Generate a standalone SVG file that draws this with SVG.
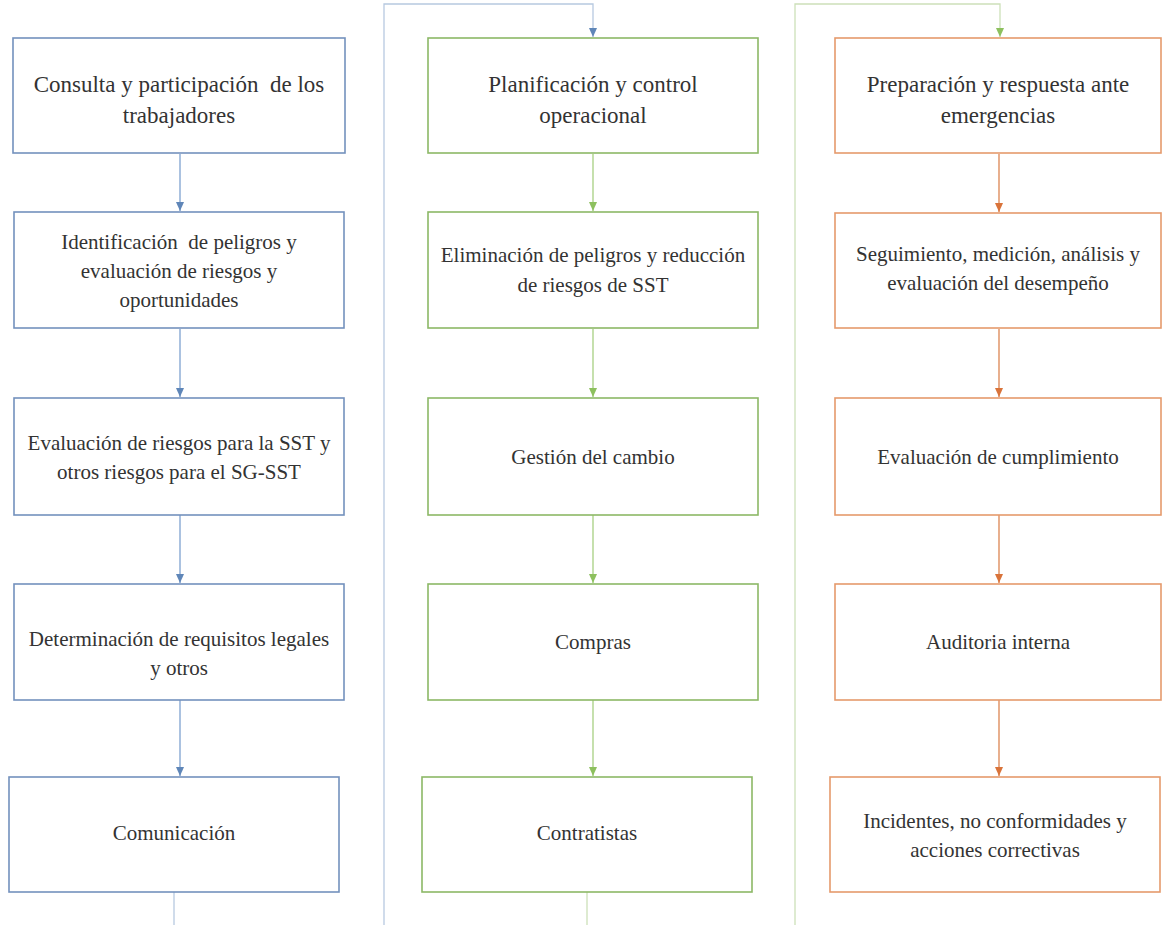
<svg xmlns="http://www.w3.org/2000/svg" width="1163" height="925" viewBox="0 0 1163 925">
<style>
text{font-family:"Liberation Serif",Tinos,"Times New Roman","Noto Serif","DejaVu Serif",serif;font-size:21px;fill:#333;text-anchor:middle}
text.t{font-size:23px}
.b{fill:#fff;stroke:#7391bd;stroke-width:1.6}
.g{fill:#fff;stroke:#8cb866;stroke-width:1.6}
.o{fill:#fff;stroke:#e59a6c;stroke-width:1.6}
.cb{stroke:#7ea1cf;stroke-width:1.3;fill:none}
.cg{stroke:#a7cf82;stroke-width:1.3;fill:none}
.co{stroke:#dc8552;stroke-width:1.3;fill:none}
.lb{stroke:#b7c9e0;stroke-width:1.3;fill:none}
.lg{stroke:#cde0b9;stroke-width:1.3;fill:none}
</style>
<defs>
<marker id="ab" markerWidth="10" markerHeight="10" refX="5" refY="9" markerUnits="userSpaceOnUse" viewBox="0 0 10 10"><path d="M1,0 L9,0 L5,9 Z" fill="#5f86b8"/></marker>
<marker id="ag" markerWidth="10" markerHeight="10" refX="5" refY="9" markerUnits="userSpaceOnUse" viewBox="0 0 10 10"><path d="M1,0 L9,0 L5,9 Z" fill="#8dc05e"/></marker>
<marker id="ao" markerWidth="10" markerHeight="10" refX="5" refY="9" markerUnits="userSpaceOnUse" viewBox="0 0 10 10"><path d="M1,0 L9,0 L5,9 Z" fill="#d9733a"/></marker>
</defs>

<g id="connectors">
<path class="cb" d="M180,154 V211" marker-end="url(#ab)"/>
<path class="cb" d="M180,329 V397" marker-end="url(#ab)"/>
<path class="cb" d="M180,515 V583" marker-end="url(#ab)"/>
<path class="cb" d="M180,700 V776" marker-end="url(#ab)"/>
<path class="lb" d="M174,892 V925"/>
<path class="lb" d="M384,925 V4 H593 V37" marker-end="url(#ab)"/>
<path class="cg" d="M593,154 V211" marker-end="url(#ag)"/>
<path class="cg" d="M593,329 V397" marker-end="url(#ag)"/>
<path class="cg" d="M593,515 V583" marker-end="url(#ag)"/>
<path class="cg" d="M593,700 V776" marker-end="url(#ag)"/>
<path class="lg" d="M587,892 V925"/>
<path class="lg" d="M795,925 V4 H1000 V37" marker-end="url(#ag)"/>
<path class="co" d="M999,154 V212" marker-end="url(#ao)"/>
<path class="co" d="M999,329 V397" marker-end="url(#ao)"/>
<path class="co" d="M999,515 V583" marker-end="url(#ao)"/>
<path class="co" d="M999,700 V776" marker-end="url(#ao)"/>
</g>

<g id="n1"><rect class="b" x="13" y="38" width="332" height="115"/><text class="t" x="179" y="92" xml:space="preserve">Consulta y participación  de los</text><text class="t" x="179" y="123">trabajadores</text></g>
<g id="n2"><rect class="b" x="14" y="212" width="330" height="116"/><text x="179" y="249" xml:space="preserve">Identificación  de peligros y</text><text x="179" y="278">evaluación de riesgos y</text><text x="179" y="307">oportunidades</text></g>
<g id="n3"><rect class="b" x="14" y="398" width="330" height="117"/><text x="179" y="450">Evaluación de riesgos para la SST y</text><text x="179" y="479">otros riesgos para el SG-SST</text></g>
<g id="n4"><rect class="b" x="14" y="584" width="330" height="116"/><text x="179" y="646">Determinación de requisitos legales</text><text x="179" y="675">y otros</text></g>
<g id="n5"><rect class="b" x="9" y="777" width="330" height="115"/><text x="174" y="840">Comunicación</text></g>

<g id="n6"><rect class="g" x="428" y="38" width="330" height="115"/><text class="t" x="593" y="92">Planificación y control</text><text class="t" x="593" y="123">operacional</text></g>
<g id="n7"><rect class="g" x="428" y="212" width="330" height="116"/><text x="593" y="262">Eliminación de peligros y reducción</text><text x="593" y="292">de riesgos de SST</text></g>
<g id="n8"><rect class="g" x="428" y="398" width="330" height="117"/><text x="593" y="464">Gestión del cambio</text></g>
<g id="n9"><rect class="g" x="428" y="584" width="330" height="116"/><text x="593" y="649">Compras</text></g>
<g id="n10"><rect class="g" x="422" y="777" width="330" height="115"/><text x="587" y="840">Contratistas</text></g>

<g id="n11"><rect class="o" x="835" y="38" width="326" height="115"/><text class="t" x="998" y="92" font-size="24">Preparación y respuesta ante</text><text class="t" x="998" y="123">emergencias</text></g>
<g id="n12"><rect class="o" x="835" y="213" width="326" height="115"/><text x="998" y="261">Seguimiento, medición, análisis y</text><text x="998" y="290">evaluación del desempeño</text></g>
<g id="n13"><rect class="o" x="835" y="398" width="326" height="117"/><text x="998" y="464">Evaluación de cumplimiento</text></g>
<g id="n14"><rect class="o" x="835" y="584" width="326" height="116"/><text x="998" y="649">Auditoria interna</text></g>
<g id="n15"><rect class="o" x="830" y="777" width="330" height="115"/><text x="995" y="828">Incidentes, no conformidades y</text><text x="995" y="857">acciones correctivas</text></g>
</svg>
